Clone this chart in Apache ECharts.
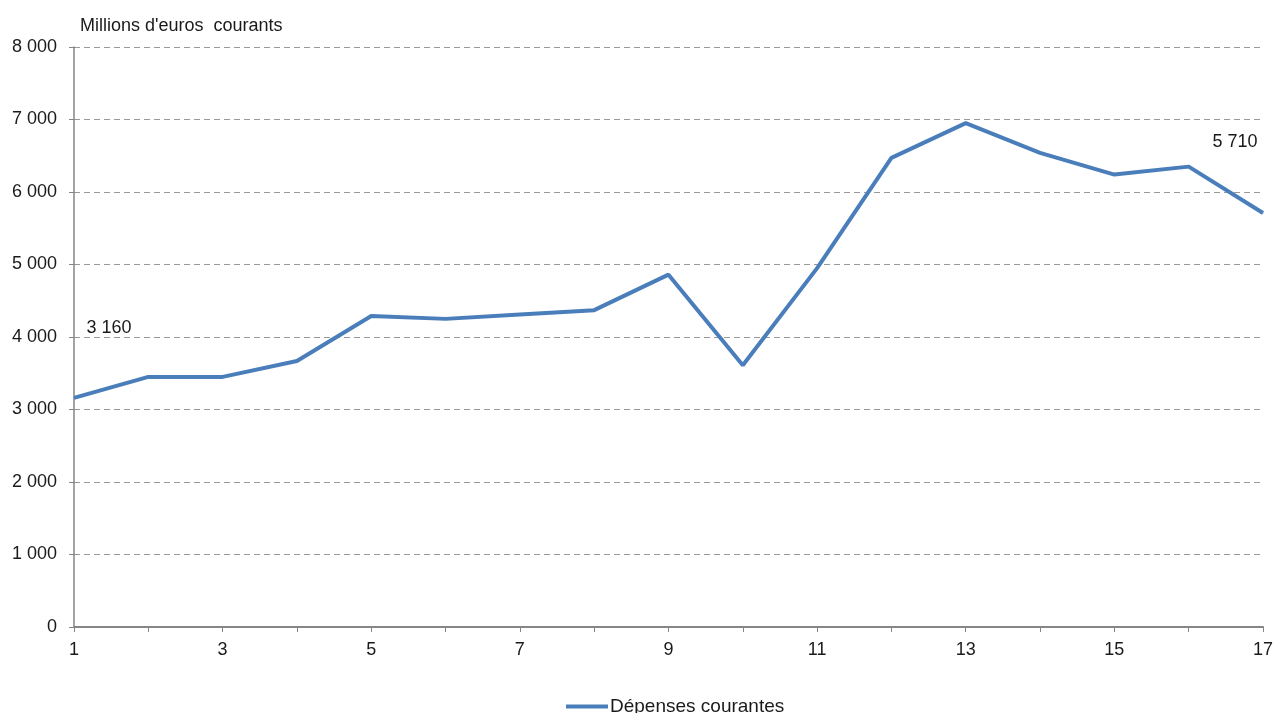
<!DOCTYPE html>
<html>
<head>
<meta charset="utf-8">
<script src="https://cdn.jsdelivr.net/npm/echarts@6/dist/echarts.min.js"></script>
<style>
  html, body { margin: 0; padding: 0; background: #fff; }
  #main { width: 1276px; height: 713px; }
</style>
</head>
<body>
<div id="main"></div>
<script>
// categories (years index) and values
var categories = ['1', '2', '3', '4', '5', '6', '7', '8', '9', '10', '11', '12', '13', '14', '15', '16', '17'];
var depenses = [3160, 3450, 3450, 3670, 4290, 4250, 4310, 4370, 4860, 3610, 4950, 6470, 6950, 6540, 6240, 6350, 5710];
var seriesName = 'Dépenses courantes';
var unitTitle = "Millions d'euros  courants";

function fmt(v) {
  return String(v).replace(/\B(?=(\d{3})+(?!\d))/g, ' ');
}

var font = 'Liberation Sans, Arial, sans-serif';
var myChart = echarts.init(document.getElementById('main'));

// labels only for first and last points
var seriesData = depenses.map(function (v, i) {
  var item = { value: v };
  if (i === 0) {
    item.label = { show: true, offset: [35, -55] };
  } else if (i === depenses.length - 1) {
    item.label = { show: true, offset: [-28, -56] };
  }
  return item;
});

var option = {
  animation: false,
  title: {
    text: unitTitle,
    left: 75,
    top: 12,
    textStyle: { fontFamily: font, fontSize: 18, fontWeight: 'normal', color: '#1a1a1a' }
  },
  grid: { left: 74, right: 9, top: 47, bottom: 86 },
  legend: {
    bottom: -8,
    left: 561,
    data: [seriesName],
    itemWidth: 42,
    itemHeight: 4,
    itemGap: 2,
    icon: 'rect',
    textStyle: { fontFamily: font, fontSize: 19, color: '#1a1a1a', padding: [0, 0, 0, -3] }
  },
  xAxis: {
    type: 'category',
    data: categories,
    boundaryGap: false,
    axisLine: { lineStyle: { color: '#868686', width: 2 } },
    axisTick: { show: true, interval: 0, length: 5, lineStyle: { color: '#868686' } },
    axisLabel: {
      interval: 1,
      margin: 14,
      fontFamily: font,
      fontSize: 18,
      color: '#1a1a1a'
    }
  },
  yAxis: {
    type: 'value',
    min: 0,
    max: 8000,
    interval: 1000,
    axisLine: { show: true, lineStyle: { color: '#868686', width: 1.5 } },
    axisTick: { show: true, length: 5, lineStyle: { color: '#868686' } },
    axisLabel: {
      margin: 17,
      fontFamily: font,
      fontSize: 18,
      color: '#1a1a1a',
      formatter: function (v) { return fmt(v); }
    },
    splitLine: { lineStyle: { color: '#999999', type: [6, 4], width: 1 } }
  },
  series: [{
    name: seriesName,
    type: 'line',
    data: seriesData,
    symbol: 'circle',
    symbolSize: 1,
    showSymbol: true,
    lineStyle: { color: '#4a7ebb', width: 4 },
    itemStyle: { color: '#4a7ebb' },
    label: {
      show: false,
      position: 'top',
      fontFamily: font,
      fontSize: 18,
      color: '#1a1a1a',
      formatter: function (p) { return fmt(p.value); }
    }
  }]
};

myChart.setOption(option);
</script>
</body>
</html>
